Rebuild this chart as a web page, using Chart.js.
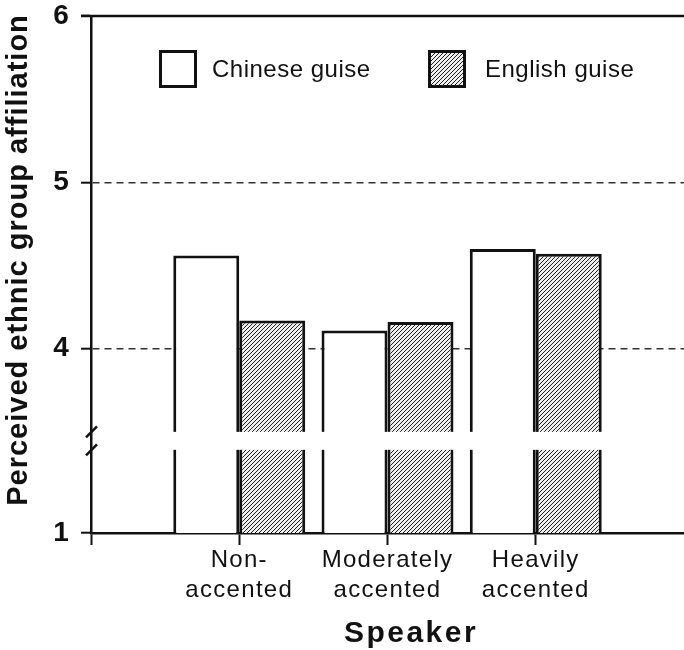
<!DOCTYPE html>
<html><head><meta charset="utf-8">
<script src="https://cdn.jsdelivr.net/npm/chart.js@4"></script>
<style>html,body{margin:0;padding:0;background:#fff}canvas{display:block}</style>
</head><body>
<canvas id="c" width="684" height="650"></canvas>
<script>
// ---- data ----
const categories = ['', ['Non-', 'accented'], ['Moderately', 'accented'], ['Heavily', 'accented'], ''];
const seriesNames = ['Chinese guise', 'English guise'];
const chineseValues = [null, 4.56, 4.11, 4.60, null];
const englishValues = [null, 4.17, 4.16, 4.57, null];
const yTickLabels = ['1', '4', '5', '6'];
const xTitle = 'Speaker';
const yTitle = 'Perceived ethnic group affiliation';
// axis is broken: real value 1 sits at the virtual axis floor below the break
const AXIS_FLOOR = 2.892;
const yTickPositions = [AXIS_FLOOR, 4, 5, 6];
const BREAK_TOP = 3.5, BREAK_BOTTOM = 3.392;

const FONT = "'Liberation Sans', Arial, sans-serif";
Chart.defaults.font.family = FONT;
Chart.defaults.color = '#111';

const ctx = document.getElementById('c').getContext('2d');

function makeHatch() {
  const s = 4;
  const c = document.createElement('canvas');
  c.width = s; c.height = s;
  const x = c.getContext('2d');
  x.fillStyle = '#eeeeee'; x.fillRect(0, 0, s, s);
  x.strokeStyle = '#222'; x.lineWidth = 1;
  x.beginPath();
  x.moveTo(0, s); x.lineTo(s, 0);
  x.moveTo(-1, 1); x.lineTo(1, -1);
  x.moveTo(s - 1, s + 1); x.lineTo(s + 1, s - 1);
  x.stroke();
  return ctx.createPattern(c, 'repeat');
}
const hatch = makeHatch();
const fills = ['#ffffff', hatch];

const spacingPlugin = {
  id: 'spacing',
  beforeLayout(chart) { chart.ctx.letterSpacing = '1.3px'; },
  beforeDraw(chart) { chart.ctx.letterSpacing = '1.3px'; }
};

const decorPlugin = {
  id: 'decor',
  afterDatasetsDraw(chart) {
    const c = chart.ctx, a = chart.chartArea, y = chart.scales.y;
    c.save();
    // break gap
    const yT = y.getPixelForValue(BREAK_TOP), yB = y.getPixelForValue(BREAK_BOTTOM);
    c.fillStyle = '#fff';
    c.fillRect(a.left + 2, yT, a.right - a.left - 2, yB - yT);
    c.strokeStyle = '#111'; c.lineWidth = 2.5;
    [yT, yB].forEach(v => {
      c.beginPath(); c.moveTo(a.left - 5, v + 5.5); c.lineTo(a.left + 6, v - 5.5); c.stroke();
    });
    // top frame line at 6
    const y6 = y.getPixelForValue(6);
    c.beginPath(); c.moveTo(a.left - 10, y6); c.lineTo(a.right, y6); c.stroke();
    // legend
    const items = [{ bx: 159, tx: 212 }, { bx: 428, tx: 485 }];
    c.font = '24px ' + FONT;
    c.letterSpacing = '0.5px';
    c.textBaseline = 'middle';
    c.textAlign = 'left';
    chart.data.datasets.forEach((ds, i) => {
      const it = items[i];
      c.fillStyle = ds.backgroundColor;
      c.fillRect(it.bx, 50, 38, 38);
      c.lineWidth = 3; c.strokeStyle = '#111';
      c.strokeRect(it.bx + 1.5, 51.5, 35, 35);
      c.fillStyle = '#111';
      c.fillText(ds.label, it.tx, 70);
    });
    // axis titles
    c.fillStyle = '#111';
    c.textAlign = 'center';
    c.font = 'bold 30px ' + FONT;
    c.letterSpacing = '2.5px';
    c.fillText(xTitle, 411, 634);
    c.save();
    c.translate(19, 260);
    c.rotate(-Math.PI / 2);
    c.font = 'bold 29px ' + FONT;
    c.letterSpacing = '1px';
    c.fillText(yTitle, 0, 0);
    c.restore();
    c.restore();
  }
};

new Chart(ctx, {
  type: 'bar',
  data: {
    labels: categories,
    datasets: [
      { label: seriesNames[0], data: chineseValues, backgroundColor: fills[0], borderColor: '#111', borderWidth: 3, borderSkipped: false },
      { label: seriesNames[1], data: englishValues, backgroundColor: fills[1], borderColor: '#111', borderWidth: 3, borderSkipped: false }
    ]
  },
  options: {
    responsive: false,
    animation: false,
    events: [],
    layout: { padding: { top: 16, right: 0, left: 0, bottom: 0 } },
    datasets: { bar: { categoryPercentage: 0.89, barPercentage: 1.0 } },
    plugins: { legend: { display: false }, tooltip: { enabled: false } },
    scales: {
      x: {
        offset: false,
        grid: {
          drawOnChartArea: false, offset: false, tickLength: 12, tickWidth: 2,
          tickColor: c => (c.index === categories.length - 1) ? 'rgba(0,0,0,0)' : '#111'
        },
        border: { color: '#111', width: 2.5 },
        ticks: { font: { size: 24, lineHeight: 1.25 }, color: '#111', padding: 0, maxRotation: 0, autoSkip: false },
        afterFit(s) { s.height = 117; s.paddingLeft = 0; s.paddingRight = 0; }
      },
      y: {
        min: AXIS_FLOOR, max: 6,
        afterBuildTicks(s) { s.ticks = yTickPositions.map(v => ({ value: v })); },
        ticks: { callback: (v, i) => yTickLabels[i], font: { size: 28, weight: 'bold' }, color: '#111', padding: 11 },
        grid: {
          color: c => (c.tick && (c.tick.value === 4 || c.tick.value === 5)) ? '#333' : 'rgba(0,0,0,0)',
          lineWidth: 1.4, tickColor: '#111', tickLength: 10, tickWidth: 2
        },
        border: { display: true, color: '#111', width: 2.5, dash: [7, 5] },
        afterFit(s) { s.width = 91; s.paddingTop = 0; s.paddingBottom = 0; }
      }
    }
  },
  plugins: [spacingPlugin, decorPlugin]
});
</script>
</body></html>
